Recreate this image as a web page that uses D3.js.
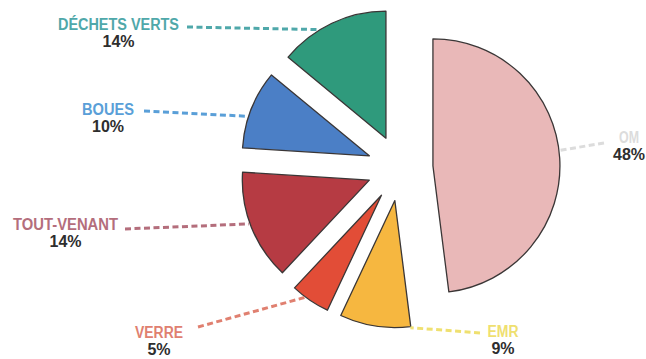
<!DOCTYPE html>
<html>
<head>
<meta charset="utf-8">
<script src="https://cdn.jsdelivr.net/npm/d3@7"></script>
<style>
  body { margin: 0; background: #fff; }
  svg { display: block; }
  text { font-family: "Liberation Sans Narrow", "Liberation Sans", Arial, sans-serif; font-weight: bold; }
</style>
</head>
<body>
<svg id="chart" width="646" height="359"></svg>
<script>
// data
const categories = ["OM", "EMR", "VERRE", "TOUT-VENANT", "BOUES", "DÉCHETS VERTS"];
const shares = [48, 9, 5, 14, 10, 14];
const pctLabels = ["48%", "9%", "5%", "14%", "10%", "14%"];

// styling
const fills = ["#e9b8b8", "#f6b740", "#e24d37", "#b63b43", "#4b7fc6", "#2f9a7c"];
const labelColors = ["#dcdcdc", "#efe070", "#e08070", "#b46e7c", "#5a9fd8", "#4fa8aa"];
// label anchor (right/center x, baseline y) and where the leader hits the arc (deg)
const labelPos = [
  { x: 629, y: 143, anchor: "middle", lx: 604, ly: 143 },
  { x: 503, y: 337, anchor: "middle", lx: 480, ly: 333 },
  { x: 159, y: 338, anchor: "middle", lx: 198, ly: 327 },
  { x: 118, y: 230, anchor: "end", lx: 125, ly: 229 },
  { x: 134, y: 115, anchor: "end", lx: 144, ly: 111 },
  { x: 179, y: 30, anchor: "end", lx: 187, ly: 27 }
];
const leaderAngle = [83, 173, 217, 250, 288, 328];
const textWidths = [20, 31, 48, 105, 52, 121];

const width = 646, height = 359;
const cx = 400, cy = 168, radius = 127, explode = 33;

const svg = d3.select("#chart");
const g = svg.append("g").attr("transform", `translate(${cx},${cy})`);

const pie = d3.pie().sort(null).value(d => d)(shares);
const arc = d3.arc().innerRadius(0).outerRadius(radius);

const offset = d => {
  const a = (d.startAngle + d.endAngle) / 2;
  return [Math.sin(a) * explode, -Math.cos(a) * explode];
};

g.selectAll(".slice")
  .data(pie)
  .enter()
  .append("path")
  .attr("class", "slice")
  .attr("transform", d => `translate(${offset(d)})`)
  .attr("d", arc)
  .attr("fill", (d, i) => fills[i])
  .attr("stroke", "#3a3636")
  .attr("stroke-width", 1.3)
  .attr("stroke-linejoin", "round");

// leader lines
g.selectAll(".leader")
  .data(pie)
  .enter()
  .append("line")
  .attr("class", "leader")
  .attr("x1", (d, i) => labelPos[i].lx - cx)
  .attr("y1", (d, i) => labelPos[i].ly - cy)
  .attr("x2", (d, i) => offset(d)[0] + Math.sin(leaderAngle[i] * Math.PI / 180) * (radius + 1))
  .attr("y2", (d, i) => offset(d)[1] - Math.cos(leaderAngle[i] * Math.PI / 180) * (radius + 1))
  .attr("stroke", (d, i) => labelColors[i])
  .attr("stroke-width", 3)
  .attr("stroke-dasharray", "6 3.5");

// labels
const labels = svg.selectAll(".label")
  .data(categories)
  .enter()
  .append("g")
  .attr("class", "label");

labels.append("text")
  .attr("x", (d, i) => labelPos[i].x)
  .attr("y", (d, i) => labelPos[i].y)
  .attr("text-anchor", (d, i) => labelPos[i].anchor)
  .attr("fill", (d, i) => labelColors[i])
  .attr("font-size", 16)
  .attr("textLength", (d, i) => textWidths[i])
  .attr("lengthAdjust", "spacingAndGlyphs")
  .text(d => d);

labels.append("text")
  .attr("x", (d, i) => labelPos[i].anchor === "end" ? labelPos[i].x - textWidths[i] / 2 : labelPos[i].x)
  .attr("y", (d, i) => labelPos[i].y + 17)
  .attr("text-anchor", "middle")
  .attr("fill", "#2e2e2e")
  .attr("font-size", 16)
  .text((d, i) => pctLabels[i]);
</script>
</body>
</html>
